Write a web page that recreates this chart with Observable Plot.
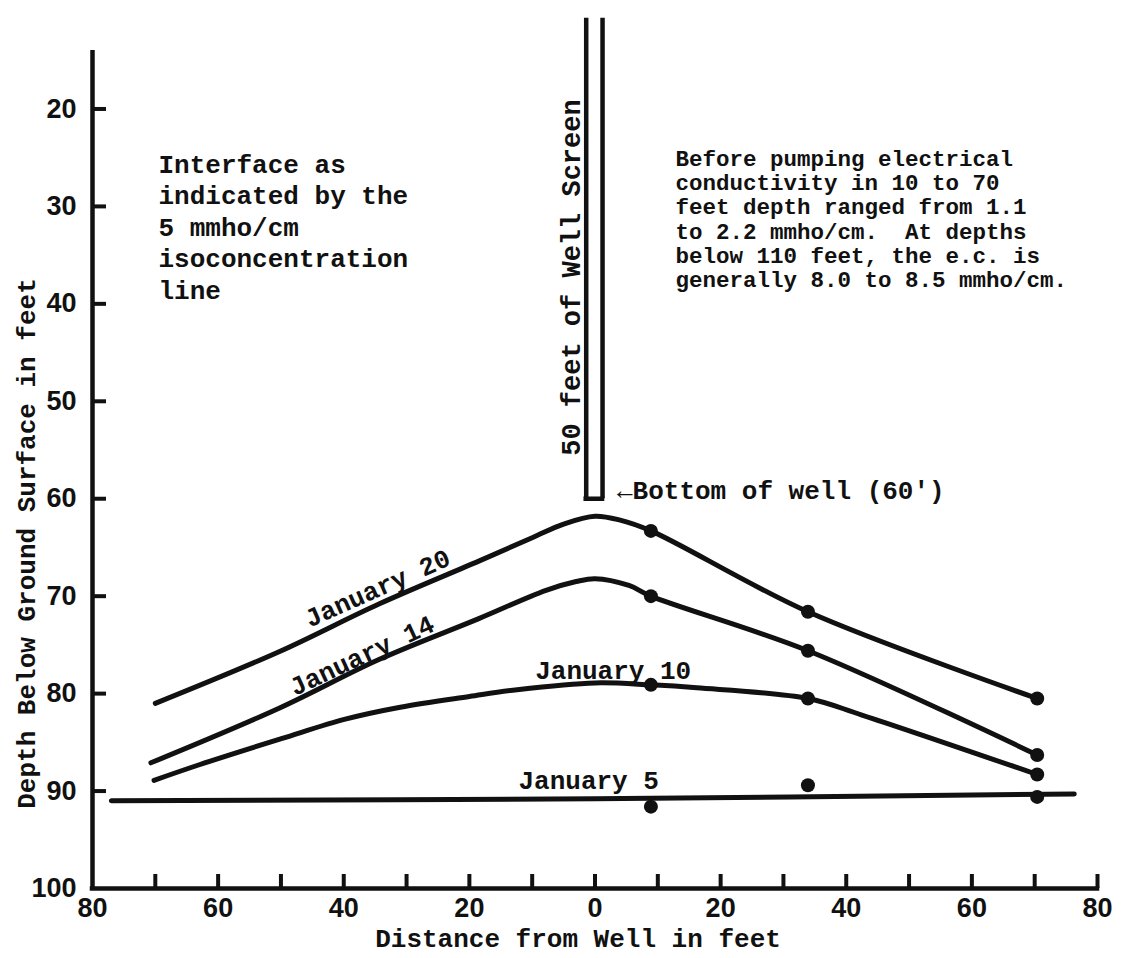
<!DOCTYPE html>
<html><head><meta charset="utf-8">
<script src="https://cdn.jsdelivr.net/npm/d3@7"></script>
<script src="https://cdn.jsdelivr.net/npm/@observablehq/plot@0.6"></script>
<style>html,body{margin:0;padding:0;background:#fff;} #chart svg{display:block}</style>
</head><body><div id="chart"></div>
<script>
// ---------- data ----------
const xTickValues = [-70, -60, -50, -40, -30, -20, -10, 0, 10, 20, 30, 40, 50, 60, 70, 80];
const xLabelValues = [-80, -60, -40, -20, 0, 20, 40, 60, 80];
const xLabelTexts = ["80", "60", "40", "20", "0", "20", "40", "60", "80"];
const yTickValues = [20, 30, 40, 50, 60, 70, 80, 90];
const yLabelValues = [20, 30, 40, 50, 60, 70, 80, 90, 100];

// measurement wells (distance from well, ft) and interface depths
const dotDistance = [8.9, 33.9, 70.4];
const jan20Dots = [63.3, 71.6, 80.5];
const jan14Dots = [70.0, 75.6, 86.3];
const jan10Dots = [79.1, 80.5, 88.3];
const jan5Dots = [91.6, 89.4, 90.6];

// traced curves
const jan20Dist = [-70, -50.3, -34.4, -18.5, -10, -5, 0, 4, 8.9, 33.9, 70.4];
const jan20Depth = [81.0, 75.7, 70.8, 66.4, 64.0, 62.6, 61.8, 62.2, 63.3, 71.6, 80.5];
const jan14Dist = [-70.7, -50.3, -34.4, -18.5, -7.8, -3, 0, 5.4, 8.9, 33.9, 70.4];
const jan14Depth = [87.1, 81.5, 76.5, 72.3, 69.4, 68.5, 68.2, 68.9, 70.0, 75.6, 86.3];
const jan10Dist = [-70.2, -63, -49.8, -39.6, -31, -20, -12.4, 0, 8.9, 16.2, 33.9, 42.5, 70.4];
const jan10Depth = [88.9, 87.3, 84.6, 82.6, 81.4, 80.3, 79.6, 78.9, 79.1, 79.4, 80.5, 82.2, 88.3];
const jan5Dist = [-77, 0, 76.3];
const jan5Depth = [91.0, 90.8, 90.3];

// well
const wellWalls = [-1.4, 1.2];
const wellTop = 10.7;
const wellBottom = 60;

// texts
const leftNote = "Interface as\nindicated by the\n5 mmho/cm\nisoconcentration\nline";
const rightNote = "Before pumping electrical\nconductivity in 10 to 70\nfeet depth ranged from 1.1\nto 2.2 mmho/cm.  At depths\nbelow 110 feet, the e.c. is\ngenerally 8.0 to 8.5 mmho/cm.";
const screenLabel = "50 feet of Well Screen";
const bottomLabel = "\u2190Bottom of well (60')";
const xTitle = "Distance from Well in feet";
const yTitle = "Depth Below Ground Surface in feet";
const seriesNames = ["January 20", "January 14", "January 10", "January 5"];

// ---------- layout ----------
const W = 1146, H = 958;
const mL = 92, mR = 49, mT = 50, mB = 70;
const xDomain = [-80, 80], yDomain = [14, 100];
const pxX = (W - mL - mR) / (xDomain[1] - xDomain[0]);
const pxY = (H - mT - mB) / (yDomain[1] - yDomain[0]);
const tickPx = 14;
const mono = "'Liberation Mono', 'DejaVu Sans Mono', monospace";
const sans = "'Liberation Sans', Arial, sans-serif";
const ink = "#111";

const mk = (xs, ys) => xs.map((x, i) => ({x, y: ys[i]}));
const series = [
  {name: seriesNames[0], line: mk(jan20Dist, jan20Depth), dots: mk(dotDistance, jan20Dots)},
  {name: seriesNames[1], line: mk(jan14Dist, jan14Depth), dots: mk(dotDistance, jan14Dots)},
  {name: seriesNames[2], line: mk(jan10Dist, jan10Depth), dots: mk(dotDistance, jan10Dots)},
  {name: seriesNames[3], line: mk(jan5Dist, jan5Depth), dots: mk(dotDistance, jan5Dots)}
];
// label placement (annotation positions in chart units)
const labelPlacement = [
  {x: -34.6, y: 69.2, rotate: -24},
  {x: -37.1, y: 76.1, rotate: -25},
  {x: 2.9, y: 77.6, rotate: 0},
  {x: -1.0, y: 88.9, rotate: 0}
];
const seriesLabels = series.map((s, i) => ({text: s.name, ...labelPlacement[i]}));

const marks = [
  // axes lines
  Plot.ruleX([xDomain[0]], {y1: yDomain[0], y2: yDomain[1], stroke: ink, strokeWidth: 4.5}),
  Plot.ruleY([yDomain[1]], {x1: xDomain[0], x2: xDomain[1], stroke: ink, strokeWidth: 4.5, strokeLinecap: "square"}),
  // ticks (inward)
  Plot.ruleY(yTickValues, {x1: xDomain[0], x2: xDomain[0] + tickPx / pxX, stroke: ink, strokeWidth: 4}),
  Plot.ruleX(xTickValues, {y1: yDomain[1], y2: yDomain[1] - tickPx / pxY, stroke: ink, strokeWidth: 4}),
  // tick labels
  Plot.text(yLabelValues, {x: xDomain[0], y: d => d, dx: -16, textAnchor: "end", text: d => String(d), fontSize: 27, fontWeight: "bold", fontFamily: sans, fill: ink}),
  Plot.text(xLabelValues, {x: d => d, y: yDomain[1], dy: 20, text: (d, i) => xLabelTexts[i], fontSize: 27, fontWeight: "bold", fontFamily: sans, fill: ink}),
  // axis titles
  Plot.text([xTitle], {frameAnchor: "bottom", dx: -17, dy: 50, textAnchor: "middle", lineAnchor: "middle", text: d => d, fontSize: 26, fontWeight: "bold", fontFamily: mono, fill: ink}),
  Plot.text([yTitle], {frameAnchor: "left", dx: -66, dy: 74, textAnchor: "middle", lineAnchor: "middle", rotate: -90, text: d => d, fontSize: 26, fontWeight: "bold", fontFamily: mono, fill: ink}),
  // well screen
  Plot.ruleX(wellWalls, {y1: wellTop, y2: wellBottom, stroke: ink, strokeWidth: 4.5}),
  Plot.ruleY([wellBottom], {x1: wellWalls[0], x2: wellWalls[1], stroke: ink, strokeWidth: 4.5, strokeLinecap: "square"}),
  Plot.text([screenLabel], {x: -3.7, y: 37.3, rotate: -90, text: d => d, fontSize: 27, fontWeight: "bold", fontFamily: mono, fill: ink}),
  Plot.text([bottomLabel], {x: 3.5, y: 59.2, textAnchor: "start", text: d => d, fontSize: 26, fontWeight: "bold", fontFamily: mono, fill: ink}),
  // notes
  Plot.text([leftNote], {frameAnchor: "top-left", dx: 66, dy: 100, lineAnchor: "top", textAnchor: "start", lineHeight: 1.21, text: d => d, fontSize: 26, fontWeight: "bold", fontFamily: mono, fill: ink}),
  Plot.text([rightNote], {frameAnchor: "top-left", dx: 583, dy: 98, lineAnchor: "top", textAnchor: "start", lineHeight: 1.08, text: d => d, fontSize: 22.5, fontWeight: "bold", fontFamily: mono, fill: ink}),
  // series
  ...series.map(s => Plot.line(s.line, {x: "x", y: "y", curve: "catmull-rom", stroke: ink, strokeWidth: 5})),
  ...series.map(s => Plot.dot(s.dots, {x: "x", y: "y", r: 7, fill: ink, stroke: "none"})),
  Plot.text(seriesLabels, {x: "x", y: "y", rotate: "rotate", text: "text", fontSize: 26, fontWeight: "bold", fontFamily: mono, fill: ink})
];

const chart = Plot.plot({
  width: W, height: H,
  marginLeft: mL, marginRight: mR, marginTop: mT, marginBottom: mB,
  x: {domain: xDomain, axis: null},
  y: {domain: yDomain, reverse: true, axis: null},
  style: {background: "#fff", color: ink, fontFamily: mono, overflow: "visible"},
  marks
});
document.getElementById("chart").appendChild(chart);
</script>
</body></html>
